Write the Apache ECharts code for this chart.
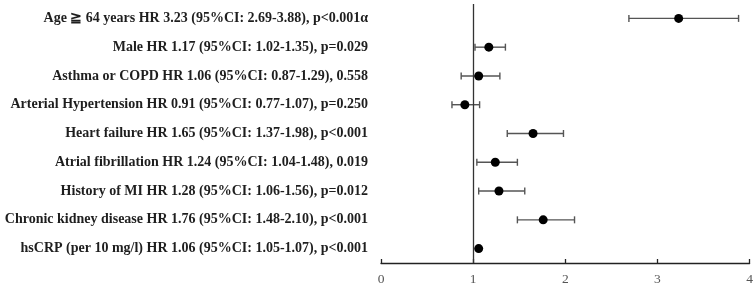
<!DOCTYPE html>
<html><head><meta charset="utf-8">
<script src="https://cdn.jsdelivr.net/npm/echarts@6/dist/echarts.min.js"></script>
<style>html,body{margin:0;padding:0;background:#fff}#c{width:756px;height:288px}</style>
</head><body><div id="c"></div>
<script>
const categories = [
  "Age \u2267 64 years HR 3.23 (95%CI: 2.69-3.88), p<0.001\u03b1",
  "Male HR 1.17 (95%CI: 1.02-1.35), p=0.029",
  "Asthma or COPD HR 1.06 (95%CI: 0.87-1.29), 0.558",
  "Arterial Hypertension HR 0.91 (95%CI: 0.77-1.07), p=0.250",
  "Heart failure HR 1.65 (95%CI: 1.37-1.98), p<0.001",
  "Atrial fibrillation HR 1.24 (95%CI: 1.04-1.48), 0.019",
  "History of MI HR 1.28 (95%CI: 1.06-1.56), p=0.012",
  "Chronic kidney disease HR 1.76 (95%CI: 1.48-2.10), p<0.001",
  "hsCRP (per 10 mg/l) HR 1.06 (95%CI: 1.05-1.07), p<0.001"
];
const hr    = [3.23, 1.17, 1.06, 0.91, 1.65, 1.24, 1.28, 1.76, 1.06];
const lower = [2.69, 1.02, 0.87, 0.77, 1.37, 1.04, 1.06, 1.48, 1.05];
const upper = [3.88, 1.35, 1.29, 1.07, 1.98, 1.48, 1.56, 2.10, 1.07];
const xTicks = [0, 1, 2, 3, 4];
const refValue = 1;

const chart = echarts.init(document.getElementById('c'), null, {renderer: 'canvas'});
const ciData = categories.map((c, i) => [lower[i], upper[i], i]);
const ptData = categories.map((c, i) => [hr[i], i]);

chart.setOption({
  animation: false,
  backgroundColor: '#fff',
  grid: {left: 381, right: 6, top: 4, bottom: 25, containLabel: false},
  xAxis: {
    type: 'value', min: xTicks[0], max: xTicks[xTicks.length - 1], interval: 1,
    splitLine: {show: false},
    axisLine: {show: true, lineStyle: {color: '#222', width: 1.3}},
    axisTick: {show: true, inside: true, length: 4, lineStyle: {color: '#222', width: 1.3}},
    axisLabel: {color: '#555', fontFamily: 'Liberation Serif', fontSize: 13.5, margin: 9}
  },
  yAxis: {
    type: 'category', data: categories, inverse: true,
    axisLine: {show: false}, axisTick: {show: false}, splitLine: {show: false},
    axisLabel: {color: '#1e1e1e', fontFamily: 'Liberation Serif', fontWeight: 'bold', fontSize: 14, margin: 13}
  },
  series: [
    {
      type: 'custom',
      data: ciData,
      encode: {x: [0, 1], y: 2},
      renderItem: function (params, api) {
        const y = api.value(2);
        const p1 = api.coord([api.value(0), y]);
        const p2 = api.coord([api.value(1), y]);
        const h = 3.5;
        const st = {stroke: '#555', lineWidth: 1.4};
        return {
          type: 'group',
          children: [
            {type: 'line', shape: {x1: p1[0], y1: p1[1], x2: p2[0], y2: p2[1]}, style: st},
            {type: 'line', shape: {x1: p1[0], y1: p1[1] - h, x2: p1[0], y2: p1[1] + h}, style: st},
            {type: 'line', shape: {x1: p2[0], y1: p2[1] - h, x2: p2[0], y2: p2[1] + h}, style: st}
          ]
        };
      },
      z: 2
    },
    {
      type: 'scatter',
      data: ptData,
      symbol: 'circle',
      symbolSize: 9,
      itemStyle: {color: '#000', opacity: 1},
      z: 3,
      markLine: {
        silent: true, symbol: 'none', label: {show: false},
        lineStyle: {color: '#333', width: 1.3, type: 'solid'},
        data: [{xAxis: refValue}]
      }
    }
  ]
});
</script>
</body></html>
